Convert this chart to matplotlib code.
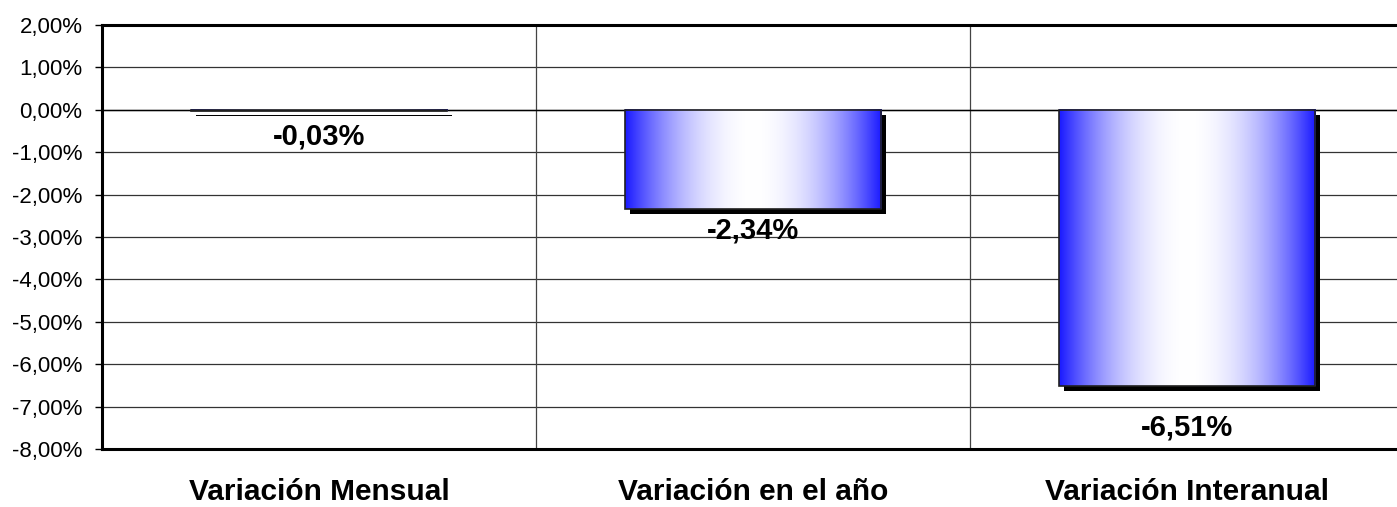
import numpy as np
import matplotlib
matplotlib.use("Agg")
import matplotlib.pyplot as plt
from matplotlib.colors import ListedColormap
from matplotlib.ticker import FuncFormatter, MultipleLocator
from matplotlib import transforms

# datos
categorias = ["Variación Mensual", "Variación en el año", "Variación Interanual"]
valores = [-0.03, -2.34, -6.51]  # en %
etiquetas = ["-0,03%", "-2,34%", "-6,51%"]

plt.rcParams['font.family'] = ['Liberation Sans', 'DejaVu Sans']

fig = plt.figure(figsize=(13.97, 5.07), dpi=100)
ax = fig.add_axes([102/1397, 58/507, 1302/1397, 424/507])

x = np.arange(len(categorias))
ancho = 0.59

# sombra negra desplazada (5px derecha, 5px abajo)
sombra = transforms.offset_copy(ax.transData, fig=fig, x=5, y=-5, units='dots')
ax.bar(x, valores, width=ancho, color='black', transform=sombra, zorder=2)

# barras con degradado azul-blanco-azul (suave hacia el centro)
azul = np.array([0.1, 0.1, 1.0])
s = np.linspace(0, 1, 256)
t = 1 - np.abs(s - 0.5) * 2          # 0 en los bordes, 1 en el centro
f = 1 - (1 - t) ** 2
colores = azul[None, :] + (1 - azul[None, :]) * f[:, None]
cmap = ListedColormap(colores)
grad = s.reshape(1, -1)
barras = ax.bar(x, valores, width=ancho, facecolor='none', edgecolor='#202020',
                linewidth=1.2, zorder=4)
for b in barras:
    x0, y0 = b.get_x(), b.get_y()
    w, h = b.get_width(), b.get_height()
    ax.imshow(grad, cmap=cmap, aspect='auto', extent=(x0, x0 + w, y0 + h, y0),
              zorder=3, interpolation='bilinear')

# etiquetas de datos bajo cada barra (baseline, px bajo el extremo)
desp = [-33, -29, -50]
for xi, v, et, d in zip(x, valores, etiquetas, desp):
    ax.annotate(et, (xi, v), xytext=(0, d), textcoords='offset pixels',
                ha='center', va='baseline', fontsize=21, fontweight='bold',
                zorder=6)

# nombres de categoria
for xi, c in zip(x, categorias):
    ax.annotate(c, (xi, 0), xycoords=('data', 'axes fraction'),
                xytext=(0, -51), textcoords='offset pixels',
                ha='center', va='baseline', fontsize=21.5, fontweight='bold')

ax.set_xlim(-0.5, 2.5)
ax.set_ylim(-8, 2)
ax.yaxis.set_major_locator(MultipleLocator(1))
ax.yaxis.set_major_formatter(FuncFormatter(lambda v, p: f"{v:.2f}%".replace('.', ',')))
ax.grid(axis='y', color='#333333', linewidth=0.9, zorder=0)
for xv in [0.5, 1.5]:
    ax.axvline(xv, color='#444444', linewidth=0.9, zorder=1)
ax.axhline(0, color='black', linewidth=1.0, zorder=1)
ax.set_axisbelow(True)

ax.set_xticks([])
ax.tick_params(axis='y', length=5, width=1, labelsize=16, pad=9)

for sp in ['top', 'left', 'bottom']:
    ax.spines[sp].set_linewidth(2.2)
ax.spines['right'].set_visible(False)

fig.savefig("out.png", dpi=100)
